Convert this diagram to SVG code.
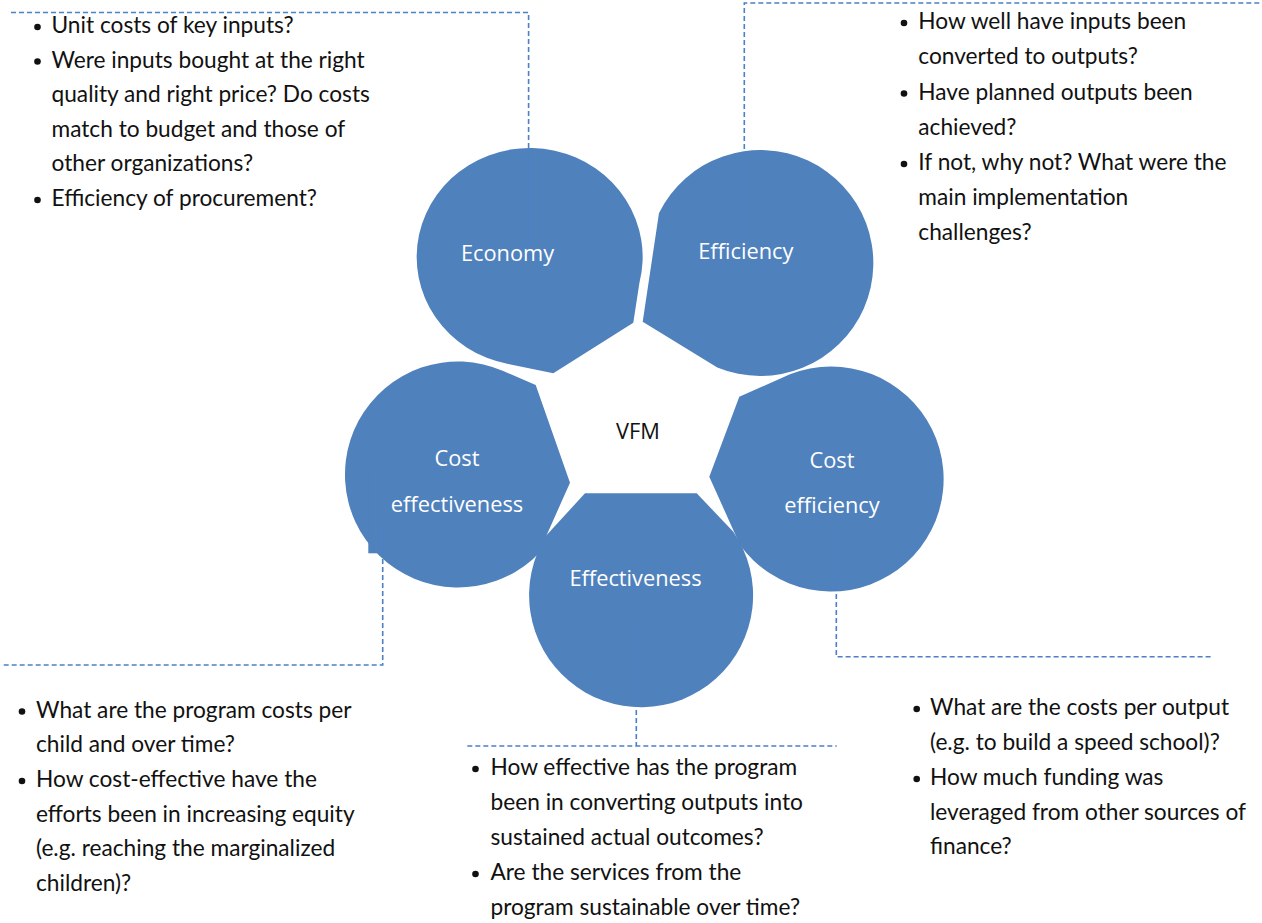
<svg xmlns="http://www.w3.org/2000/svg" width="1262" height="923" viewBox="0 0 1262 923">
<style>
.t{font-family:Lato,"Liberation Sans",sans-serif;font-size:22.7px;fill:#111}
.lbl{font-family:"Open Sans","Liberation Sans",sans-serif;font-size:21.8px;fill:#fff;text-anchor:middle}
.ctr{font-family:"Open Sans","Liberation Sans",sans-serif;font-size:21.8px;fill:#111;text-anchor:middle}
.petal{fill:#4f81bd}
.dash{fill:none;stroke:#4a80c6;stroke-width:1.6;stroke-dasharray:5 3}
.b{fill:#111}
</style>
<rect width="1262" height="923" fill="#fff"/>
<g id="economy">
<path class="petal" d="M508.2,364 A113 109 0 1 1 639.4,283 L633.3,322.7 L553.3,373.3 Z"/>
<text class="lbl" x="507.5" y="261">Economy</text>
</g>
<g id="efficiency">
<path class="petal" d="M642.7,321.7 L717.3,367.5 A113 113 0 1 0 659,213 Z"/>
<text class="lbl" x="745.8" y="258.5">Efficiency</text>
</g>
<g id="cost-effectiveness">
<path class="petal" d="M503.3,371 L535.7,385 L570,482.7 L546.7,535 L546.7,544.5 A113 113 0 1 1 503.3,371 Z"/>
<rect class="petal" x="368.3" y="470" width="172" height="83.3"/>
<text class="lbl" x="457" y="466">Cost</text>
<text class="lbl" x="457" y="511.5">effectiveness</text>
</g>
<g id="cost-efficiency">
<path class="petal" d="M790,374.3 A112.5 112.5 0 1 1 740,545 L709.3,476.7 L739.3,396.7 Z"/>
<text class="lbl" x="832" y="468">Cost</text>
<text class="lbl" x="832" y="513">efficiency</text>
</g>
<g id="effectiveness">
<path class="petal" d="M585,493.3 L546.7,535 A112 112 0 1 0 733.3,531.7 L696.7,493.3 Z"/>
<text class="lbl" x="635.5" y="586">Effectiveness</text>
</g>
<g id="vfm">
<text class="ctr" x="638" y="438.5">VFM</text>
</g>
<g id="connectors">
<path class="dash" d="M11,12.5 H528.6 V247"/>
<path class="dash" d="M744.3,237 V3 H1262"/>
<path class="dash" d="M382.7,527 V665 H3"/>
<path class="dash" d="M636.3,622 V746 M467.3,746 H836.7"/>
<path class="dash" d="M836.3,530 V656.7 H1213.3"/>
</g>
<g id="economy-notes">
<circle class="b" cx="37.5" cy="27" r="3.3"/>
<circle class="b" cx="37.5" cy="61.5" r="3.3"/>
<circle class="b" cx="37.5" cy="200" r="3.3"/>
<text class="t" x="51.5" y="33">Unit costs of key inputs?</text>
<text class="t" x="51.5" y="67.5">Were inputs bought at the right</text>
<text class="t" x="51.5" y="102">quality and right price? Do costs</text>
<text class="t" x="51.5" y="136.5">match to budget and those of</text>
<text class="t" x="51.5" y="171">other organizations?</text>
<text class="t" x="51.5" y="206">Efficiency of procurement?</text>
</g>
<g id="efficiency-notes">
<circle class="b" cx="904" cy="23" r="3.3"/>
<circle class="b" cx="904" cy="93.5" r="3.3"/>
<circle class="b" cx="904" cy="164" r="3.3"/>
<text class="t" x="918.3" y="29">How well have inputs been</text>
<text class="t" x="918.3" y="64">converted to outputs?</text>
<text class="t" x="918.3" y="99.5">Have planned outputs been</text>
<text class="t" x="918.3" y="134.5">achieved?</text>
<text class="t" x="918.3" y="170">If not, why not? What were the</text>
<text class="t" x="918.3" y="205">main implementation</text>
<text class="t" x="918.3" y="240">challenges?</text>
</g>
<g id="cost-effectiveness-notes">
<circle class="b" cx="22" cy="711.5" r="3.3"/>
<circle class="b" cx="22" cy="781" r="3.3"/>
<text class="t" x="36" y="717.5">What are the program costs per</text>
<text class="t" x="36" y="752">child and over time?</text>
<text class="t" x="36" y="787">How cost-effective have the</text>
<text class="t" x="36" y="821.5">efforts been in increasing equity</text>
<text class="t" x="36" y="856">(e.g. reaching the marginalized</text>
<text class="t" x="36" y="891">children)?</text>
</g>
<g id="effectiveness-notes">
<circle class="b" cx="475.5" cy="769" r="3.3"/>
<circle class="b" cx="475.5" cy="874" r="3.3"/>
<text class="t" x="490.5" y="775">How effective has the program</text>
<text class="t" x="490.5" y="810">been in converting outputs into</text>
<text class="t" x="490.5" y="845">sustained actual outcomes?</text>
<text class="t" x="490.5" y="880">Are the services from the</text>
<text class="t" x="490.5" y="914.5">program sustainable over time?</text>
</g>
<g id="cost-efficiency-notes">
<circle class="b" cx="916.7" cy="709" r="3.3"/>
<circle class="b" cx="916.7" cy="779" r="3.3"/>
<text class="t" x="930" y="715">What are the costs per output</text>
<text class="t" x="930" y="750">(e.g. to build a speed school)?</text>
<text class="t" x="930" y="785">How much funding was</text>
<text class="t" x="930" y="820">leveraged from other sources of</text>
<text class="t" x="930" y="854">finance?</text>
</g>
</svg>
